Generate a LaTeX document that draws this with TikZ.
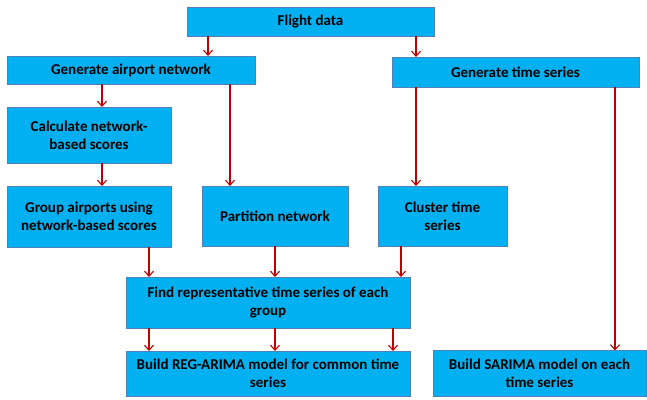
\documentclass[tikz,border=0pt]{standalone}
\usepackage{fontspec}
\setmainfont{Carlito}
\usetikzlibrary{arrows.meta}
\definecolor{boxfill}{HTML}{00B0F0}
\definecolor{boxline}{HTML}{4F81BD}
\definecolor{arrowred}{HTML}{C00000}
\tikzset{
  procbox/.style={draw=boxline, line width=0.8pt, fill=boxfill, inner sep=0pt, outer sep=0pt,
    align=center, font=\fontsize{15}{18.4}\selectfont\bfseries},
  flowarrow/.style={draw=arrowred, line width=1.1pt, -{Straight Barb[length=5pt,width=9pt]}}
}
\begin{document}
\begin{tikzpicture}[x=1pt,y=-1pt]
\useasboundingbox (0,0) rectangle (647,399);

% process boxes
\node[procbox, minimum width=247, minimum height=29] (flight) at (310.5,21.5) {Flight data};
\node[procbox, minimum width=248, minimum height=28] (genair) at (131,70) {Generate airport network};
\node[procbox, minimum width=247, minimum height=30] (gents) at (515.5,72) {Generate time series};
\node[procbox, minimum width=164, minimum height=56] (calc) at (89,135) {Calculate network-\\based scores};
\node[procbox, minimum width=164, minimum height=61] (group) at (89,216.5) {Group airports using\\network-based scores};
\node[procbox, minimum width=146, minimum height=60] (part) at (275,216) {Partition network};
\node[procbox, minimum width=129, minimum height=60] (clus) at (442.5,216) {Cluster time\\series};
\node[procbox, minimum width=284, minimum height=51] (find) at (268,302.5) {Find representative time series of each\\group};
\node[procbox, minimum width=284, minimum height=45] (reg) at (268,373.5) {Build REG-ARIMA model for common time\\series};
\node[procbox, minimum width=213, minimum height=46] (sarima) at (539.5,373.5) {Build SARIMA model on each\\time series};

% vertical guides for the connectors
\coordinate (xa) at (208,0);
\coordinate (xb) at (416,0);
\coordinate (xc) at (102,0);
\coordinate (xd) at (230,0);
\coordinate (xe) at (615,0);
\coordinate (xf) at (149,0);
\coordinate (xg) at (275,0);
\coordinate (xh) at (401,0);
\coordinate (xi) at (393,0);

% connectors
\draw[flowarrow] (flight.south -| xa) -- (genair.north -| xa);
\draw[flowarrow] (flight.south -| xb) -- (gents.north -| xb);
\draw[flowarrow] (genair.south -| xc) -- (calc.north -| xc);
\draw[flowarrow] (genair.south -| xd) -- (part.north -| xd);
\draw[flowarrow] (calc.south -| xc) -- (group.north -| xc);
\draw[flowarrow] (gents.south -| xb) -- (clus.north -| xb);
\draw[flowarrow] (gents.south -| xe) -- (sarima.north -| xe);
\draw[flowarrow] (group.south -| xf) -- (find.north -| xf);
\draw[flowarrow] (part.south -| xg) -- (find.north -| xg);
\draw[flowarrow] (clus.south -| xh) -- (find.north -| xh);
\draw[flowarrow] (find.south -| xf) -- (reg.north -| xf);
\draw[flowarrow] (find.south -| xg) -- (reg.north -| xg);
\draw[flowarrow] (find.south -| xi) -- (reg.north -| xi);
\end{tikzpicture}
\end{document}
